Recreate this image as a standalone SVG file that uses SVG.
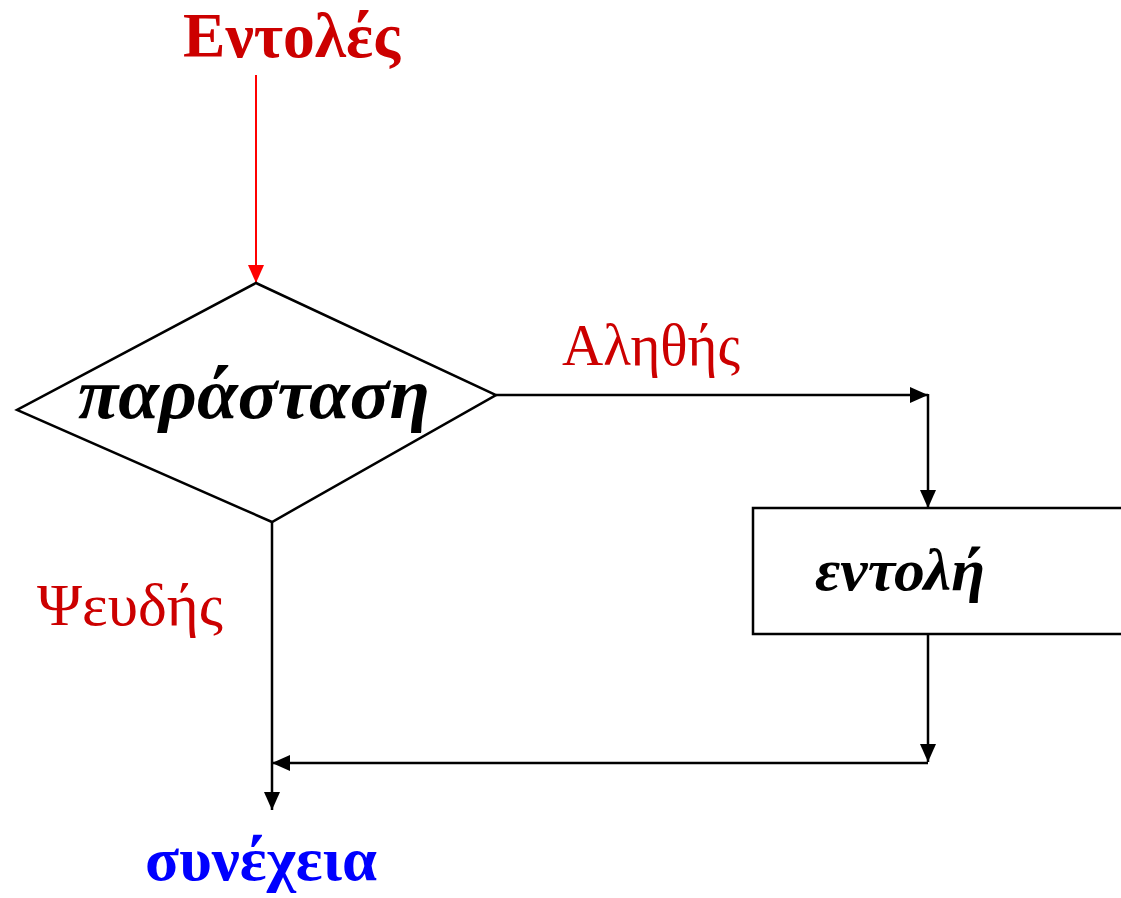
<svg xmlns="http://www.w3.org/2000/svg" width="1121" height="898" viewBox="0 0 1121 898">
<defs>
<marker id="ab" markerUnits="userSpaceOnUse" markerWidth="18" markerHeight="16" refX="18" refY="8" orient="auto"><path d="M0,0 L18,8 L0,16 Z" fill="#000"/></marker>
<marker id="ar" markerUnits="userSpaceOnUse" markerWidth="18" markerHeight="16" refX="18" refY="8" orient="auto"><path d="M0,0 L18,8 L0,16 Z" fill="#ff0000"/></marker>
</defs>
<style>
.ln{fill:none;stroke:#000;stroke-width:2.5}
.sh{fill:#fff;stroke:#000;stroke-width:2.5}
.t{font-family:"Liberation Serif","Times New Roman",serif}
.red{fill:#cc0000}
</style>
<rect width="1121" height="898" fill="#fff"/>
<g id="connectors">
<line x1="256" y1="75" x2="256" y2="283" stroke="#ff0000" stroke-width="2" marker-end="url(#ar)"/>
<line class="ln" x1="496" y1="395" x2="928" y2="395" marker-end="url(#ab)"/>
<line class="ln" x1="928" y1="394" x2="928" y2="508" marker-end="url(#ab)"/>
<line class="ln" x1="928" y1="634" x2="928" y2="762" marker-end="url(#ab)"/>
<line class="ln" x1="928" y1="763" x2="272" y2="763" marker-end="url(#ab)"/>
<line class="ln" x1="272" y1="522" x2="272" y2="810" marker-end="url(#ab)"/>
</g>
<g id="start"><text class="t red" x="183" y="57" font-size="64" font-weight="bold" textLength="217" lengthAdjust="spacingAndGlyphs">Εντολές</text></g>
<g id="decision">
<polygon class="sh" points="256,283 496,395 272,522 17,410"/>
<text class="t" x="78" y="418" font-size="72" font-weight="bold" font-style="italic" textLength="352" lengthAdjust="spacingAndGlyphs">παράσταση</text>
</g>
<g id="label-true"><text class="t red" x="562" y="365" font-size="60" textLength="178" lengthAdjust="spacingAndGlyphs">Αληθής</text></g>
<g id="label-false"><text class="t red" x="37" y="625" font-size="60" textLength="186" lengthAdjust="spacingAndGlyphs">Ψευδής</text></g>
<g id="statement">
<rect class="sh" x="753" y="508" width="380" height="126"/>
<text class="t" x="815" y="590" font-size="60" font-weight="bold" font-style="italic" textLength="170" lengthAdjust="spacingAndGlyphs">εντολή</text>
</g>
<g id="end"><text class="t" x="145" y="880" font-size="62" font-weight="bold" fill="#0000ff" textLength="232" lengthAdjust="spacingAndGlyphs">συνέχεια</text></g>
</svg>
